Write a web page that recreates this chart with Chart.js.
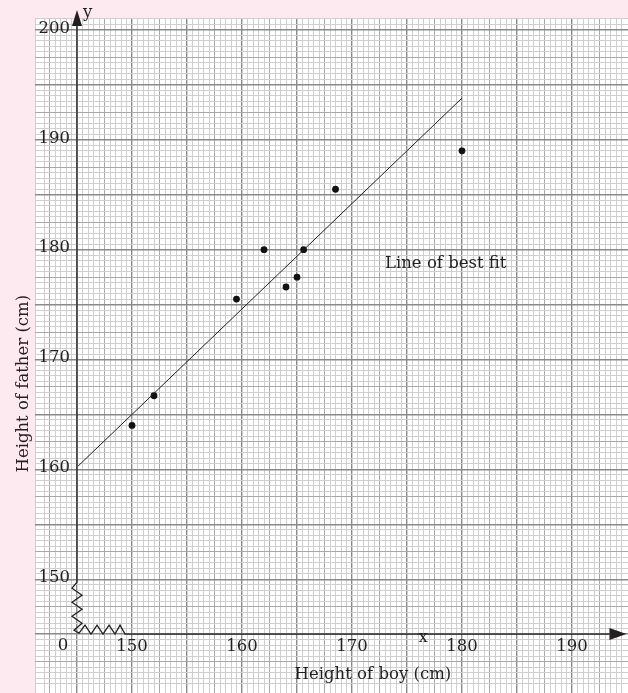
<!DOCTYPE html>
<html>
<head>
<meta charset="utf-8">
<script src="https://cdn.jsdelivr.net/npm/chart.js@4.4.1/dist/chart.umd.min.js"></script>
<style>
  html, body { margin: 0; padding: 0; background: #fde9f0; }
  #wrap { width: 628px; height: 693px; position: relative; }
</style>
</head>
<body>
<div id="wrap"><canvas id="chart"></canvas></div>
<script>
// measured points (boy height, father height)
const boyHeights = [150, 152, 159.5, 162, 164, 165, 165.6, 168.5, 180];
const fatherHeights = [164, 166.7, 175.5, 180, 176.6, 177.5, 180, 185.5, 189];

// line of best fit, drawn as two end points
const fitX = [145.1, 180];
const fitY = [160.3, 193.8];

const xTicks = [150, 160, 170, 180, 190];
const yTicks = [150, 160, 170, 180, 190, 200];
const origin = 145; // both axes start here (shown as "0" with a break)

const xLabel = "Height of boy (cm)";
const yLabel = "Height of father (cm)";
const fitLabel = "Line of best fit";

const serif = "'DejaVu Serif', 'Liberation Serif', serif";
const ink = "#231f20";

const gridColor = (ctx) => {
    const v = ctx.tick.value;
    const r5 = Math.abs(v / 5 - Math.round(v / 5));
    const r25 = Math.abs(v / 2.5 - Math.round(v / 2.5));
    if (r5 < 0.001) return "#8a8a8a";
    if (r25 < 0.001) return "#a8a8a8";
    return "#cfcfcf";
};

const gridWidth = (ctx) => {
    const v = ctx.tick.value;
    const r5 = Math.abs(v / 5 - Math.round(v / 5));
    return r5 < 0.001 ? 1.4 : 1;
};

// keep the hidden axes from taking any room, so the grid fills the paper
const noRoom = (scale) => {
    if (scale.isHorizontal()) scale.height = 0;
    else scale.width = 0;
};

const paper = {
    id: "paper",
    beforeDraw(chart) {
        const { ctx, chartArea: a } = chart;
        ctx.save();
        ctx.fillStyle = "#fde9f0";
        ctx.fillRect(0, 0, chart.width, chart.height);
        ctx.fillStyle = "#ffffff";
        ctx.fillRect(a.left, a.top, a.right - a.left, a.bottom - a.top);
        ctx.restore();
    },
    afterDatasetsDraw(chart) {
        const { ctx, scales } = chart;
        const x = scales.x, y = scales.y;
        const ox = x.getPixelForValue(origin);
        const oy = y.getPixelForValue(origin);
        const unit = x.getPixelForValue(origin + 1) - ox;
        ctx.save();
        ctx.strokeStyle = ink;
        ctx.fillStyle = ink;
        ctx.lineWidth = 1.3;
        ctx.lineJoin = "miter";

        // y axis with arrow and break
        const yTop = y.getPixelForValue(200) - 4;
        const yBreak = y.getPixelForValue(150) + 3;
        ctx.beginPath();
        ctx.moveTo(ox, yTop);
        ctx.lineTo(ox, yBreak);
        const vz = [[-5, 6], [5, 13], [-5, 20], [5, 27], [-5, 34], [5, 41], [-3, 48]];
        vz.forEach(([dx, dy]) => ctx.lineTo(ox + dx, yBreak + dy));
        ctx.lineTo(ox + 2, oy - 1);
        // x axis break
        const hz = [[8, -9], [14, 0], [20, -9], [26, 0], [32, -9], [38, 0], [43, -9], [48, 0]];
        hz.forEach(([dx, dy]) => ctx.lineTo(ox + dx, oy + dy));
        const xEnd = x.getPixelForValue(190) + 3.4 * unit;
        ctx.lineTo(xEnd, oy);
        ctx.stroke();

        // arrow heads
        ctx.beginPath();
        ctx.moveTo(ox, yTop - 16);
        ctx.lineTo(ox - 5, yTop);
        ctx.lineTo(ox + 5, yTop);
        ctx.closePath();
        ctx.fill();
        ctx.beginPath();
        ctx.moveTo(xEnd + 17, oy);
        ctx.lineTo(xEnd, oy - 6);
        ctx.lineTo(xEnd, oy + 6);
        ctx.closePath();
        ctx.fill();

        // tick labels
        ctx.font = "16.5px " + serif;
        ctx.textAlign = "center";
        ctx.textBaseline = "middle";
        xTicks.forEach((v) => ctx.fillText(String(v), x.getPixelForValue(v), oy + 13));
        ctx.fillText("0", ox - 14, oy + 12);
        ctx.textAlign = "right";
        yTicks.forEach((v) => ctx.fillText(String(v), ox - 7, y.getPixelForValue(v) - 1.5));

        // axis letters
        ctx.textAlign = "left";
        ctx.textBaseline = "alphabetic";
        ctx.fillText("y", ox + 6, yTop - 9);
        ctx.fillText("x", x.getPixelForValue(176.4) - 4, oy + 8);

        // line label
        ctx.fillText(fitLabel, x.getPixelForValue(173.0), y.getPixelForValue(178.3));

        // axis titles
        ctx.textAlign = "center";
        ctx.textBaseline = "middle";
        ctx.fillText(xLabel, x.getPixelForValue(171.9), oy + 41);
        ctx.translate(24, y.getPixelForValue(167.8));
        ctx.rotate(-Math.PI / 2);
        ctx.fillText(yLabel, 0, 0);
        ctx.restore();
    },
};

new Chart(document.getElementById("chart"), {
    type: "scatter",
    data: {
        datasets: [
            {
                label: "Line of best fit",
                type: "line",
                data: fitX.map((v, i) => ({ x: v, y: fitY[i] })),
                borderColor: ink,
                borderWidth: 1,
                pointRadius: 0,
                fill: false,
            },
            {
                label: "Heights",
                data: boyHeights.map((v, i) => ({ x: v, y: fatherHeights[i] })),
                backgroundColor: "#111111",
                borderWidth: 0,
                pointRadius: 3.4,
            },
        ],
    },
    options: {
        responsive: true,
        maintainAspectRatio: false,
        animation: false,
        layout: {
            autoPadding: false,
            padding: { left: 35, top: 18, right: 0, bottom: 0 },
        },
        plugins: {
            legend: { display: false },
            tooltip: { enabled: false },
        },
        scales: {
            x: {
                type: "linear",
                min: 141.18,
                max: 195.09,
                afterFit: noRoom,
                ticks: { display: false, stepSize: 0.5, padding: 0 },
                border: { display: false },
                grid: { color: gridColor, lineWidth: gridWidth, drawTicks: false },
            },
            y: {
                type: "linear",
                min: 139.64,
                max: 201.09,
                afterFit: noRoom,
                ticks: { display: false, stepSize: 0.5, padding: 0 },
                border: { display: false },
                grid: { color: gridColor, lineWidth: gridWidth, drawTicks: false },
            },
        },
    },
    plugins: [paper],
});
</script>
</body>
</html>
